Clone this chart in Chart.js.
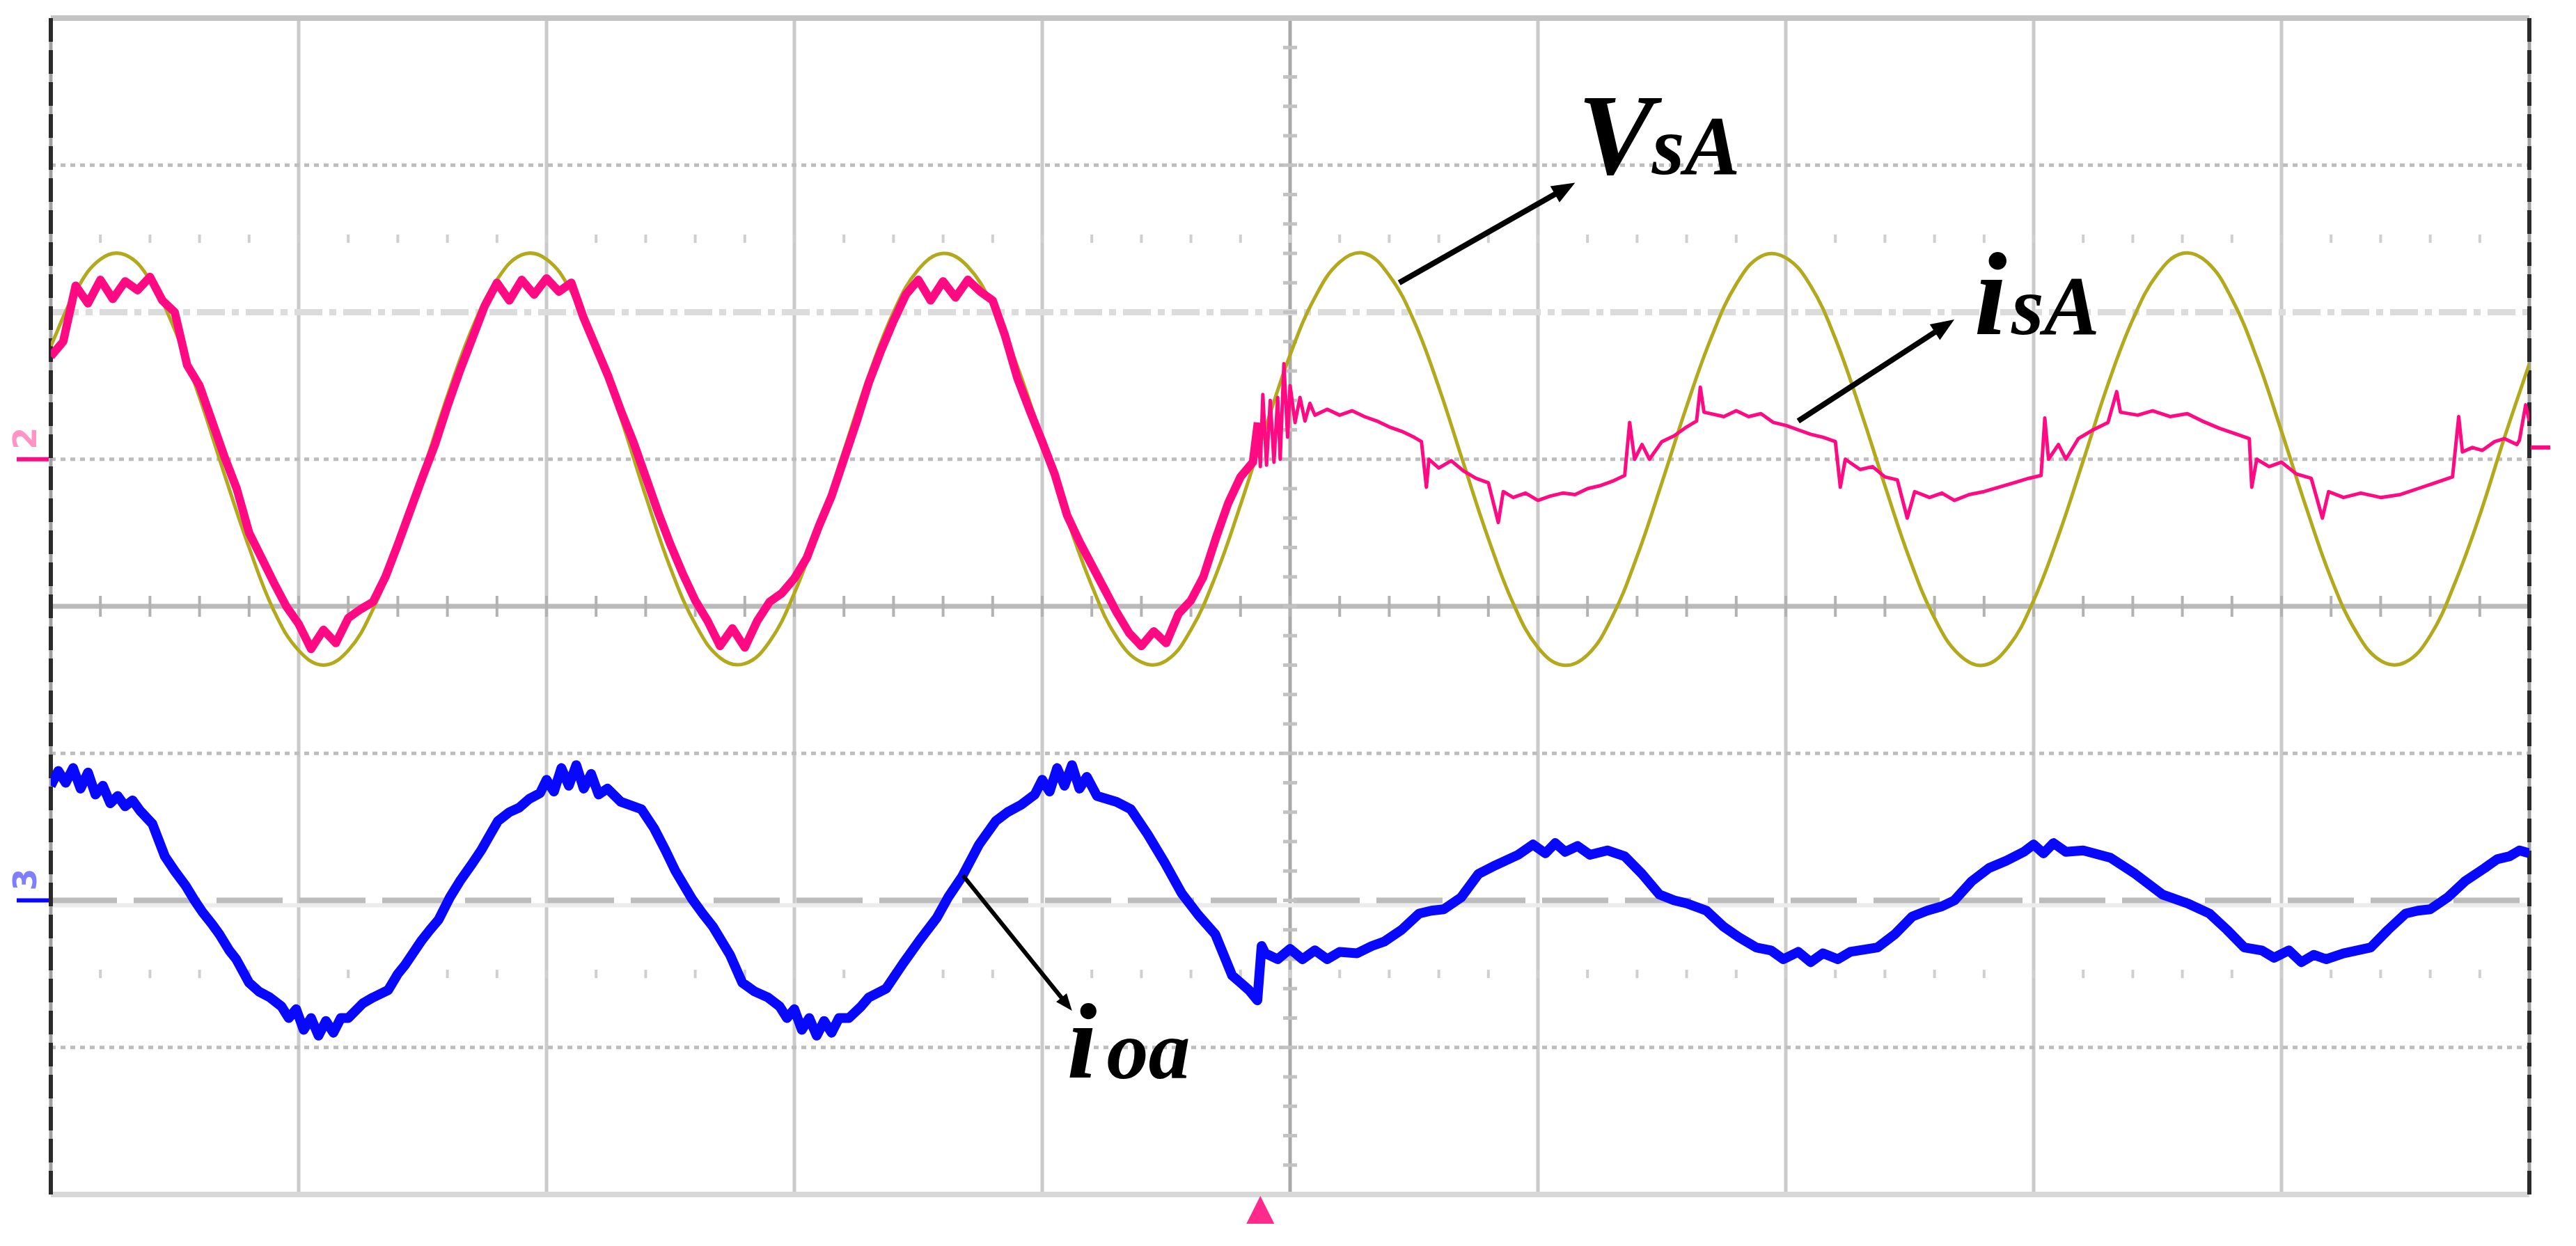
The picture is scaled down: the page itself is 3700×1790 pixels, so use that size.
<!DOCTYPE html>
<html>
<head>
<meta charset="utf-8">
<title>VsA, isA, ioa</title>
<script src="https://cdn.jsdelivr.net/npm/chart.js@4.4.1/dist/chart.umd.min.js"></script>
<style>
  html, body { margin: 0; padding: 0; background: #fff; overflow: hidden; }
  #scope { display: block; }
  #warm { position: absolute; left: -9999px; top: 0; font: italic bold 40px "Liberation Serif", "Times New Roman", serif; }
</style>
</head>
<body>
<div id="warm">VsA isA ioa</div>
<canvas id="scope" width="3700" height="1790"></canvas>
<script>
'use strict';

// time in screen divisions, 0..10
var timeAxis = [
  0.0, 0.1, 0.2, 0.3, 0.4, 0.5, 0.6, 0.7, 0.8, 0.9,
  1.0, 1.1, 1.2, 1.3, 1.4, 1.5, 1.6, 1.7, 1.8, 1.9,
  2.0, 2.1, 2.2, 2.3, 2.4, 2.5, 2.6, 2.7, 2.8, 2.9,
  3.0, 3.1, 3.2, 3.3, 3.4, 3.5, 3.6, 3.7, 3.8, 3.9,
  4.0, 4.1, 4.2, 4.3, 4.4, 4.5, 4.6, 4.7, 4.8, 4.9,
  5.0, 5.1, 5.2, 5.3, 5.4, 5.5, 5.6, 5.7, 5.8, 5.9,
  6.0, 6.1, 6.2, 6.3, 6.4, 6.5, 6.6, 6.7, 6.8, 6.9,
  7.0, 7.1, 7.2, 7.3, 7.4, 7.5, 7.6, 7.7, 7.8, 7.9,
  8.0, 8.1, 8.2, 8.3, 8.4, 8.5, 8.6, 8.7, 8.8, 8.9,
  9.0, 9.1, 9.2, 9.3, 9.4, 9.5, 9.6, 9.7, 9.8, 9.9,
  10.0
];

// source voltage VsA (divisions)
var vsA = [
  1.77, 2.14, 2.36, 2.39, 2.22, 1.88, 1.42, 0.90, 0.40, -0.03,
  -0.30, -0.40, -0.30, -0.02, 0.40, 0.91, 1.43, 1.89, 2.22, 2.39,
  2.36, 2.14, 1.76, 1.28, 0.75, 0.26, -0.12, -0.35, -0.39, -0.24,
  0.09, 0.54, 1.06, 1.57, 2.00, 2.29, 2.40, 2.31, 2.04, 1.63,
  1.13, 0.60, 0.14, -0.21, -0.38, -0.37, -0.16, 0.21, 0.69, 1.21,
  1.71, 2.10, 2.34, 2.40, 2.25, 1.94, 1.49, 0.97, 0.46, 0.02,
  -0.28, -0.40, -0.33, -0.07, 0.34, 0.84, 1.36, 1.83, 2.19, 2.38,
  2.37, 2.18, 1.82, 1.34, 0.82, 0.32, -0.08, -0.33, -0.40, -0.27,
  0.04, 0.48, 0.99, 1.51, 1.95, 2.26, 2.40, 2.34, 2.09, 1.69,
  1.19, 0.67, 0.19, -0.17, -0.37, -0.38, -0.20, 0.16, 0.62, 1.15,
  1.65
];

// source current isA
var isATime = [
  0.00, 0.05, 0.10, 0.15, 0.20, 0.25, 0.30, 0.35, 0.40, 0.45,
  0.50, 0.55, 0.60, 0.65, 0.70, 0.75, 0.80, 0.85, 0.90, 0.95,
  1.00, 1.05, 1.10, 1.15, 1.20, 1.25, 1.30, 1.35, 1.40, 1.45,
  1.50, 1.55, 1.60, 1.65, 1.70, 1.75, 1.80, 1.85, 1.90, 1.95,
  2.00, 2.05, 2.10, 2.15, 2.20, 2.25, 2.30, 2.35, 2.40, 2.45,
  2.50, 2.55, 2.60, 2.65, 2.70, 2.75, 2.80, 2.85, 2.90, 2.95,
  3.00, 3.05, 3.10, 3.15, 3.20, 3.25, 3.30, 3.35, 3.40, 3.45,
  3.50, 3.55, 3.60, 3.65, 3.70, 3.75, 3.80, 3.85, 3.90, 3.95,
  4.00, 4.05, 4.10, 4.15, 4.20, 4.25, 4.30, 4.35, 4.40, 4.45,
  4.50, 4.55, 4.60, 4.65, 4.70, 4.75, 4.80, 4.85,
  4.87, 4.88, 4.89, 4.905, 4.92, 4.935, 4.95, 4.96, 4.975, 4.99,
  5.00, 5.02, 5.04, 5.06, 5.08, 5.10, 5.15, 5.20, 5.25, 5.30,
  5.35, 5.40, 5.45, 5.50, 5.53, 5.55, 5.56, 5.60, 5.65, 5.70,
  5.75, 5.80, 5.84, 5.86, 5.90, 5.95, 6.00, 6.05, 6.10, 6.15,
  6.20, 6.25, 6.30, 6.35, 6.37, 6.39, 6.42, 6.45, 6.50, 6.55,
  6.60, 6.64, 6.655, 6.67, 6.75, 6.80, 6.85, 6.90, 6.95, 7.00,
  7.05, 7.10, 7.15, 7.20, 7.22, 7.24, 7.30, 7.35, 7.40, 7.45,
  7.49, 7.52, 7.58, 7.63, 7.68, 7.74, 7.80, 7.86, 7.92, 7.98,
  8.03, 8.045, 8.06, 8.10, 8.13, 8.18, 8.24, 8.30, 8.335, 8.35,
  8.42, 8.48, 8.55, 8.62, 8.68, 8.75, 8.82, 8.87, 8.88, 8.90,
  8.95, 9.00, 9.06, 9.12, 9.165, 9.19, 9.25, 9.32, 9.40, 9.48,
  9.55, 9.62, 9.69, 9.715, 9.73, 9.77, 9.81, 9.86, 9.90, 9.95,
  9.96, 9.985, 10.0
];
var isA = [
  1.70, 1.80, 2.18, 2.06, 2.22, 2.09, 2.21, 2.15, 2.24, 2.08,
  2.00, 1.64, 1.50, 1.26, 1.02, 0.80, 0.50, 0.33, 0.16, 0.00,
  -0.12, -0.29, -0.16, -0.25, -0.08, -0.02, 0.03, 0.20, 0.42, 0.65,
  0.88, 1.10, 1.36, 1.60, 1.82, 2.04, 2.20, 2.08, 2.22, 2.12,
  2.23, 2.14, 2.20, 1.96, 1.76, 1.56, 1.33, 1.12, 0.88, 0.64,
  0.42, 0.22, 0.04, -0.10, -0.27, -0.15, -0.28, -0.10, 0.03, 0.09,
  0.19, 0.33, 0.55, 0.75, 1.00, 1.25, 1.52, 1.74, 1.94, 2.12,
  2.22, 2.08, 2.21, 2.10, 2.22, 2.14, 2.08, 1.84, 1.55, 1.33,
  1.12, 0.90, 0.62, 0.44, 0.28, 0.12, -0.04, -0.18, -0.27, -0.17,
  -0.25, -0.05, 0.04, 0.20, 0.46, 0.70, 0.88, 0.98,
  1.25, 0.95, 1.44, 0.96, 1.40, 0.98, 1.42, 1.00, 1.65, 1.15,
  1.50, 1.25, 1.42, 1.26, 1.38, 1.30, 1.34, 1.30, 1.33, 1.29,
  1.26, 1.22, 1.19, 1.15, 1.12, 0.81, 1.00, 0.94, 0.99, 0.92,
  0.87, 0.84, 0.57, 0.78, 0.74, 0.77, 0.72, 0.75, 0.77, 0.76,
  0.80, 0.82, 0.85, 0.89, 1.25, 1.00, 1.10, 1.00, 1.12, 1.16,
  1.22, 1.26, 1.49, 1.32, 1.29, 1.33, 1.29, 1.31, 1.25, 1.23,
  1.20, 1.17, 1.15, 1.12, 0.81, 1.00, 0.93, 0.95, 0.88, 0.86,
  0.60, 0.78, 0.74, 0.77, 0.72, 0.76, 0.78, 0.81, 0.84, 0.87,
  0.89, 1.28, 1.00, 1.10, 1.00, 1.14, 1.20, 1.25, 1.46, 1.32,
  1.30, 1.33, 1.29, 1.31, 1.26, 1.21, 1.17, 1.14, 0.81, 1.00,
  0.95, 0.98, 0.90, 0.87, 0.60, 0.78, 0.74, 0.77, 0.74, 0.76,
  0.80, 0.84, 0.88, 1.29, 1.05, 1.08, 1.06, 1.12, 1.14, 1.10,
  1.13, 1.37, 1.26
];

// load current ioa
var ioaTime = [
  0.00, 0.03, 0.06, 0.09, 0.12, 0.15, 0.18, 0.21, 0.24, 0.27,
  0.30, 0.33, 0.36, 0.41, 0.46, 0.50, 0.544, 0.58, 0.612, 0.65,
  0.68, 0.72, 0.748, 0.80, 0.84, 0.884, 0.93, 0.96, 0.99, 1.02,
  1.05, 1.08, 1.11, 1.14, 1.17, 1.20, 1.259, 1.30, 1.361, 1.40,
  1.429, 1.497, 1.53, 1.565, 1.61, 1.65, 1.70, 1.736, 1.77, 1.804,
  1.85, 1.889, 1.93, 1.974, 2.00, 2.03, 2.06, 2.09, 2.12, 2.15,
  2.18, 2.21, 2.246, 2.30, 2.383, 2.434, 2.48, 2.52, 2.587, 2.63,
  2.672, 2.74, 2.79, 2.84, 2.893, 2.94, 2.97, 3.00, 3.03, 3.06,
  3.09, 3.12, 3.15, 3.18, 3.22, 3.27, 3.30, 3.37, 3.438, 3.506,
  3.574, 3.62, 3.676, 3.745, 3.813, 3.86, 3.915, 3.97, 4.00, 4.03,
  4.06, 4.09, 4.12, 4.15, 4.18, 4.221, 4.30, 4.357, 4.425, 4.493,
  4.562, 4.63, 4.698, 4.766, 4.80, 4.834, 4.868, 4.885, 4.90, 4.95,
  5.00, 5.05, 5.10, 5.15, 5.20, 5.27, 5.33, 5.38, 5.45, 5.52,
  5.57, 5.62, 5.69, 5.76, 5.83, 5.92, 5.98, 6.03, 6.07, 6.11,
  6.16, 6.21, 6.28, 6.35, 6.42, 6.49, 6.55, 6.60, 6.68, 6.75,
  6.81, 6.88, 6.94, 6.99, 7.05, 7.10, 7.15, 7.21, 7.26, 7.37,
  7.44, 7.51, 7.57, 7.63, 7.68, 7.75, 7.82, 7.89, 7.96, 8.00,
  8.04, 8.08, 8.13, 8.20, 8.31, 8.41, 8.52, 8.62, 8.71, 8.78,
  8.85, 8.92, 8.97, 9.03, 9.08, 9.13, 9.18, 9.25, 9.36, 9.43,
  9.50, 9.55, 9.60, 9.67, 9.74, 9.82, 9.87, 9.92, 9.96, 10.0
];
var ioa = [
  -1.22, -1.12, -1.20, -1.10, -1.24, -1.13, -1.28, -1.22, -1.34, -1.29,
  -1.36, -1.32, -1.39, -1.48, -1.70, -1.80, -1.90, -2.00, -2.08, -2.16,
  -2.23, -2.34, -2.40, -2.56, -2.62, -2.66, -2.72, -2.80, -2.74, -2.88,
  -2.80, -2.92, -2.82, -2.90, -2.80, -2.80, -2.70, -2.66, -2.61, -2.50,
  -2.44, -2.27, -2.20, -2.13, -1.98, -1.87, -1.75, -1.66, -1.56, -1.46,
  -1.40, -1.37, -1.31, -1.27, -1.18, -1.26, -1.10, -1.22, -1.08, -1.24,
  -1.14, -1.28, -1.24, -1.33, -1.38, -1.51, -1.66, -1.80, -1.99, -2.09,
  -2.18, -2.37, -2.56, -2.62, -2.66, -2.72, -2.80, -2.74, -2.88, -2.80,
  -2.92, -2.82, -2.90, -2.80, -2.80, -2.72, -2.66, -2.60, -2.43, -2.27,
  -2.12, -1.98, -1.84, -1.62, -1.46, -1.40, -1.35, -1.28, -1.18, -1.26,
  -1.10, -1.22, -1.08, -1.24, -1.16, -1.29, -1.33, -1.38, -1.55, -1.74,
  -1.95, -2.10, -2.23, -2.51, -2.56, -2.61, -2.68, -2.31, -2.36, -2.40,
  -2.33, -2.40, -2.34, -2.40, -2.35, -2.36, -2.31, -2.28, -2.20, -2.09,
  -2.07, -2.06, -1.98, -1.82, -1.76, -1.69, -1.62, -1.68, -1.61, -1.67,
  -1.63, -1.69, -1.66, -1.70, -1.82, -1.96, -2.00, -2.02, -2.07, -2.18,
  -2.25, -2.32, -2.34, -2.40, -2.35, -2.42, -2.36, -2.40, -2.35, -2.32,
  -2.23, -2.11, -2.07, -2.04, -2.00, -1.87, -1.78, -1.73, -1.67, -1.62,
  -1.68, -1.61, -1.67, -1.66, -1.71, -1.82, -1.96, -2.02, -2.09, -2.20,
  -2.32, -2.34, -2.39, -2.34, -2.42, -2.37, -2.40, -2.36, -2.32, -2.20,
  -2.09, -2.07, -2.06, -1.98, -1.87, -1.78, -1.72, -1.70, -1.66, -1.68
];

// graticule
var gridColumns = [1, 2, 3, 4, 6, 7, 8, 9];
var dottedRows = [3, 1, -1, -3];
var tickRows = [2.5, -2.5];

// channel ground markers: [level, label]
var channelMarks = [[1, '2'], [-2, '3']];
var triggerAt = 4.88;
var isAEndLevel = 1.08;

var labelFont = '"Liberation Serif", "Times New Roman", serif';

function toPoints(xs, ys) {
  return xs.map(function(x, i) {
    return { x: x, y: ys[i] };
  });
}

var graticule = {
  id: 'graticule',
  beforeDatasetsDraw: function(chart) {
    var ctx = chart.ctx, a = chart.chartArea;
    var xs = chart.scales.x, ys = chart.scales.y;

    function line(x0, y0, x1, y1, color, width, dash) {
      ctx.save();
      ctx.strokeStyle = color;
      ctx.lineWidth = width;
      ctx.setLineDash(dash || []);
      ctx.beginPath();
      ctx.moveTo(x0, y0);
      ctx.lineTo(x1, y1);
      ctx.stroke();
      ctx.restore();
    }
    function row(v, color, width, dash) {
      var y = ys.getPixelForValue(v);
      line(a.left, y, a.right, y, color, width, dash);
    }

    ctx.save();
    ctx.fillStyle = '#fff';
    ctx.fillRect(0, 0, chart.width, chart.height);
    ctx.restore();

    gridColumns.forEach(function(v) {
      var x = xs.getPixelForValue(v);
      line(x, a.top, x, a.bottom, '#cacaca', 5);
    });
    var xc = xs.getPixelForValue(5);
    line(xc, a.top, xc, a.bottom, '#a8a8a8', 5);

    dottedRows.forEach(function(v) { row(v, '#bdbdbd', 5, [7, 7]); });
    row(2, '#dcdcdc', 9, [40, 10, 10, 10]);
    var yd = ys.getPixelForValue(-2);
    line(a.left, yd + 7, a.right, yd + 7, '#ececec', 6);
    row(-2, '#bcbcbc', 8, [95, 24]);
    row(0, '#bababa', 7);

    // minor ticks every 0.2 div
    var y0 = ys.getPixelForValue(0);
    for (var t = 0.2; t < 10; t += 0.2) {
      var px = xs.getPixelForValue(t);
      line(px, y0 - 15, px, y0 + 15, '#b2b2b2', 4);
      tickRows.forEach(function(r) {
        var yr = ys.getPixelForValue(r);
        line(px, yr - 6, px, yr + 6, '#cfcfcf', 4);
      });
    }
    for (var s = -3.8; s < 4; s += 0.2) {
      var py = ys.getPixelForValue(s);
      line(xc - 10, py, xc + 10, py, '#c2c2c2', 5);
    }

    // frame
    line(a.left, a.top, a.right, a.top, '#c4c4c4', 8);
    line(a.left, a.bottom, a.right, a.bottom, '#d8d8d8', 8);
    [a.left, a.right].forEach(function(x) {
      line(x, a.top, x, a.bottom, '#a0a0a0', 5);
      line(x, a.top, x, a.bottom, '#2a2a2a', 6, [34, 12]);
    });

    // channel markers on the left
    channelMarks.forEach(function(m, i) {
      var y = ys.getPixelForValue(m[0]);
      var col = i === 0 ? '#ff0a82' : '#0808ff';
      line(24, y, a.left - 3, y, col, 6);
      ctx.save();
      ctx.translate(40, y - 30);
      ctx.rotate(-Math.PI / 2);
      ctx.fillStyle = i === 0 ? 'rgba(255,60,150,0.55)' : 'rgba(40,40,255,0.6)';
      ctx.font = 'bold 46px "DejaVu Sans"';
      ctx.textAlign = 'center';
      ctx.textBaseline = 'middle';
      ctx.fillText(m[1], 0, 0);
      ctx.restore();
    });

    // trigger position
    var tx = xs.getPixelForValue(triggerAt);
    ctx.save();
    ctx.fillStyle = '#ff2a8c';
    ctx.beginPath();
    ctx.moveTo(tx, a.bottom + 2);
    ctx.lineTo(tx - 20, a.bottom + 42);
    ctx.lineTo(tx + 20, a.bottom + 42);
    ctx.closePath();
    ctx.fill();
    ctx.restore();

    // isA trace end marker on the right
    var ye = ys.getPixelForValue(isAEndLevel);
    line(a.right + 2, ye, a.right + 30, ye, '#ff0a82', 6);
  }
};

var notes = {
  id: 'notes',
  afterDatasetsDraw: function(chart) {
    var ctx = chart.ctx;
    var xs = chart.scales.x, ys = chart.scales.y;

    function arrow(x0, y0, x1, y1, width, head) {
      var p0x = xs.getPixelForValue(x0), p0y = ys.getPixelForValue(y0);
      var p1x = xs.getPixelForValue(x1), p1y = ys.getPixelForValue(y1);
      var ang = Math.atan2(p1y - p0y, p1x - p0x);
      ctx.save();
      ctx.strokeStyle = '#000';
      ctx.fillStyle = '#000';
      ctx.lineWidth = width;
      ctx.beginPath();
      ctx.moveTo(p0x, p0y);
      ctx.lineTo(p1x - Math.cos(ang) * head * 0.8, p1y - Math.sin(ang) * head * 0.8);
      ctx.stroke();
      ctx.beginPath();
      ctx.moveTo(p1x, p1y);
      ctx.lineTo(p1x - head * Math.cos(ang - 0.38), p1y - head * Math.sin(ang - 0.38));
      ctx.lineTo(p1x - head * Math.cos(ang + 0.38), p1y - head * Math.sin(ang + 0.38));
      ctx.closePath();
      ctx.fill();
      ctx.restore();
    }

    function label(big, bigSize, x, sub, subSize, subX, y) {
      var py = ys.getPixelForValue(y);
      ctx.save();
      ctx.fillStyle = '#000';
      ctx.textBaseline = 'alphabetic';
      ctx.font = 'italic bold ' + bigSize + 'px ' + labelFont;
      ctx.fillText(big, xs.getPixelForValue(x), py);
      ctx.font = 'italic bold ' + subSize + 'px ' + labelFont;
      ctx.fillText(sub, xs.getPixelForValue(subX), py);
      ctx.restore();
    }

    arrow(5.44, 2.20, 6.15, 2.88, 8, 36);
    arrow(7.05, 1.26, 7.68, 1.95, 8, 36);
    arrow(3.68, -1.83, 4.12, -2.75, 6, 26);

    label('V', 165, 6.16, 'sA', 120, 6.46, 2.94);
    label('i', 170, 7.76, 'sA', 120, 7.91, 1.85);
    label('i', 155, 4.10, 'oa', 120, 4.26, -3.21);
  }
};

function draw() {
  new Chart(document.getElementById('scope'), {
    type: 'line',
    data: {
      datasets: [{
        label: 'isA',
        data: toPoints(isATime, isA),
        borderColor: '#ff0a82',
        borderWidth: 5,
        borderJoinStyle: 'round',
        tension: 0,
        segment: {
          borderWidth: function(c) { return c.p0.parsed.x < 4.86 ? 12 : 5; }
        }
      }, {
        label: 'VsA',
        data: toPoints(timeAxis, vsA),
        borderColor: '#b3a91c',
        borderWidth: 5,
        tension: 0.4
      }, {
        label: 'ioa',
        data: toPoints(ioaTime, ioa),
        borderColor: '#0808ff',
        borderWidth: 14,
        borderJoinStyle: 'round',
        tension: 0
      }]
    },
    options: {
      responsive: false,
      animation: false,
      devicePixelRatio: 1,
      layout: {
        padding: { left: 73, right: 67, top: 26, bottom: 74 }
      },
      elements: {
        point: { radius: 0, hoverRadius: 0 }
      },
      scales: {
        x: { type: 'linear', min: 0, max: 10, display: false },
        y: { type: 'linear', min: -4, max: 4, display: false }
      },
      plugins: {
        legend: { display: false },
        tooltip: { enabled: false }
      }
    },
    plugins: [graticule, notes]
  });
}

if (document.fonts && document.fonts.load) {
  Promise.all([
    document.fonts.load('italic bold 120px "Liberation Serif"'),
    document.fonts.load('bold 46px "DejaVu Sans"')
  ]).then(draw, draw);
} else {
  draw();
}
</script>
</body>
</html>
